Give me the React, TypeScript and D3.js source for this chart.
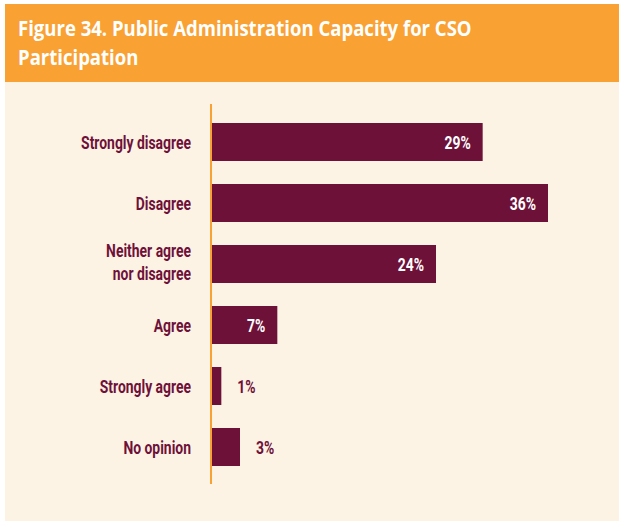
import { FC, useEffect, useRef } from 'react';
import * as d3 from 'd3';

const categories = [
  ['Strongly disagree'],
  ['Disagree'],
  ['Neither agree', 'nor disagree'],
  ['Agree'],
  ['Strongly agree'],
  ['No opinion'],
];
const values = [29, 36, 24, 7, 1, 3];
const titleLines = ['Figure 34. Public Administration Capacity for CSO', 'Participation'];

const ORANGE = '#f9a133';
const CREAM = '#fdf3e5';
const WINE = '#6e1139';
const LABEL_FONT = 'Roboto, "Noto Sans", sans-serif';

const App: FC = () => {
  const svgRef = useRef<SVGSVGElement>(null);

  useEffect(() => {
    if (!svgRef.current) return;
    const W = 619;
    const H = 521;
    const svg = d3.select(svgRef.current);
    svg.selectAll('*').remove();

    // background panels
    svg.append('rect').attr('x', 5).attr('y', 82).attr('width', W - 5).attr('height', H - 82).attr('fill', CREAM);
    svg.append('rect').attr('x', 5).attr('y', 4).attr('width', W - 5).attr('height', 78).attr('fill', ORANGE);

    // title, squeezed to the reference width
    const title = svg.append('g').attr('transform', 'translate(18,0)');
    const titleTexts = title
      .selectAll('text')
      .data(titleLines)
      .enter()
      .append('text')
      .attr('x', 0)
      .attr('y', (_, i) => 36 + i * 29)
      .attr('fill', 'white')
      .attr('font-family', '"Open Sans", sans-serif')
      .attr('font-weight', 700)
      .attr('font-size', 21)
      .text(d => d);
    const tLen = (titleTexts.node() as SVGTextElement).getComputedTextLength();
    title.attr('transform', `translate(18,0) scale(${454 / tLen},1)`);

    const x0 = 212;
    const x = d3.scaleLinear().domain([0, 36]).range([x0, 548]);
    const y = d3
      .scaleBand<number>()
      .domain(d3.range(values.length))
      .range([123 - 11.5, 466 + 11.5])
      .paddingInner(23 / 61)
      .paddingOuter(11.5 / 61);

    // bars
    svg
      .selectAll('.bar')
      .data(values)
      .enter()
      .append('rect')
      .attr('class', 'bar')
      .attr('x', x0)
      .attr('y', (_, i) => y(i) as number)
      .attr('width', d => x(d) - x0)
      .attr('height', y.bandwidth())
      .attr('fill', WINE);

    // axis line
    svg
      .append('line')
      .attr('x1', 211)
      .attr('x2', 211)
      .attr('y1', 104)
      .attr('y2', 484)
      .attr('stroke', ORANGE)
      .attr('stroke-width', 2);

    // measure a label to get the condensing factor
    const probe = svg
      .append('text')
      .attr('font-family', LABEL_FONT)
      .attr('font-weight', 700)
      .attr('font-size', 19)
      .text('Strongly disagree');
    const sx = 110 / (probe.node() as SVGTextElement).getComputedTextLength();
    probe.remove();

    // value labels
    svg
      .selectAll('.val')
      .data(values)
      .enter()
      .append('g')
      .attr('class', 'val')
      .attr('transform', (d, i) => {
        const cy = (y(i) as number) + y.bandwidth() / 2 + 7;
        const px = d >= 5 ? x(d) - 12 : x(d) + 16;
        return `translate(${px},${cy}) scale(${sx},1)`;
      })
      .append('text')
      .attr('text-anchor', d => (d >= 5 ? 'end' : 'start'))
      .attr('fill', d => (d >= 5 ? 'white' : WINE))
      .attr('font-family', LABEL_FONT)
      .attr('font-weight', 700)
      .attr('font-size', 19)
      .text(d => `${d}%`);

    // category labels
    svg
      .selectAll('.cat')
      .data(categories)
      .enter()
      .append('g')
      .attr('class', 'cat')
      .each(function (lines, i) {
        const cy = (y(i) as number) + y.bandwidth() / 2;
        const g = d3.select(this);
        lines.forEach((line, j) => {
          const base = cy + 7 - (lines.length - 1) * 14.5 + j * 23.3;
          g.append('text')
            .attr('transform', `translate(191,${base}) scale(${sx},1)`)
            .attr('text-anchor', 'end')
            .attr('fill', WINE)
            .attr('font-family', LABEL_FONT)
            .attr('font-weight', 700)
            .attr('font-size', 19)
            .text(line);
        });
      });
  }, []);

  return (
    <svg
      ref={svgRef}
      width={619}
      height={521}
      style={{ position: 'absolute', left: 0, top: 0, background: 'white' }}
    />
  );
};

export default App;
